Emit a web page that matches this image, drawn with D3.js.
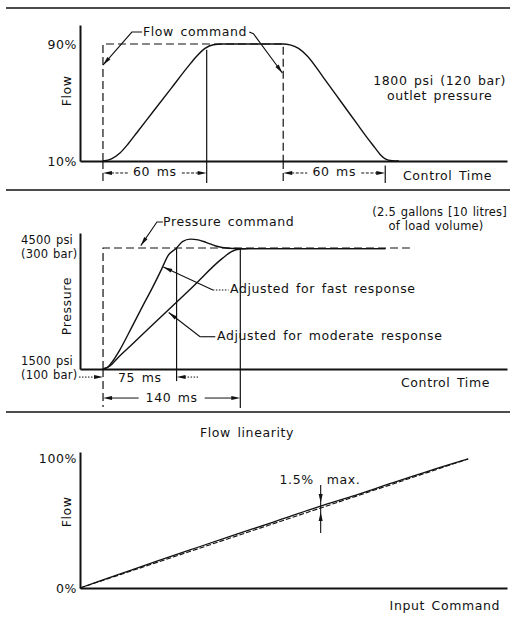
<!DOCTYPE html>
<html>
<head>
<meta charset="utf-8">
<script src="https://cdn.jsdelivr.net/npm/d3@7"></script>
<style>
  body { margin: 0; background: #fff; }
  svg text {
    font-family: "DejaVu Sans", "Liberation Sans", sans-serif;
    font-size: 12.5px;
    fill: #111;
    letter-spacing: 0.6px;
    word-spacing: 2px;
  }
  svg text.tight { font-size: 11.5px; letter-spacing: 0.2px; word-spacing: 1px; }
</style>
</head>
<body>
<svg id="chart" width="510" height="620"></svg>
<script>
// ---------- Panel 1: flow step response (time in ms, flow in %) ----------
const flowTime = [0, 5, 10, 15, 20, 30, 40, 50, 55, 60, 65, 70, 106, 110, 115, 120, 130, 140, 150, 155, 160, 163, 166, 170, 174];
const flowPct  = [10, 11.5, 15.5, 22, 29.5, 44.5, 59.5, 74.5, 81.5, 87, 89.5, 90, 90, 89.4, 87, 82, 66.5, 50.5, 34.5, 26.5, 19, 14.5, 11.5, 10.2, 10];
const flowCmdTime = [0, 0, 106, 106];
const flowCmdPct  = [10, 90, 90, 10];
const flowTicks = [10, 90];
const flowTickLabels = ["10%", "90%"];

// ---------- Panel 2: pressure step response (time in ms, pressure in psi) ----------
const fastTime = [0, 5, 10, 17, 30, 40, 50, 60, 66, 75, 81, 89, 97, 105, 115, 128, 140, 288];
const fastPsi  = [1500, 1550, 1700, 1970, 2570, 3040, 3500, 3990, 4300, 4500, 4660, 4720, 4700, 4640, 4550, 4495, 4485, 4485];
const modTime = [0, 7, 15, 30, 60, 90, 122, 131, 140, 150, 288];
const modPsi  = [1500, 1575, 1775, 2120, 2815, 3505, 4250, 4410, 4475, 4485, 4485];
const pressCmdTime = [0, 0, 313];
const pressCmdPsi  = [1500, 4500, 4500];
const pressTicks = [4500, 1500];
const pressTickPsi = ["4500 psi", "1500 psi"];
const pressTickBar = ["(300 bar)", "(100 bar)"];

// ---------- Panel 3: flow linearity (input command % vs flow %) ----------
const linInput  = [0, 10, 20, 30, 40, 50, 62, 70, 80, 90, 100];
const linOutput = [0, 10.5, 21, 31.2, 41.3, 51.3, 63.5, 71, 81, 90.8, 100];
const idealInput  = [0, 100];
const idealOutput = [0, 100];
const linTicks = [0, 100];
const linTickLabels = ["0%", "100%"];

const ink = "#111";
const svg = d3.select("#chart");

// helpers
function label(g, x, y, txt, anchor = "start") {
  return g.append("text").attr("x", x).attr("y", y)
    .attr("text-anchor", anchor).attr("dominant-baseline", "middle").text(txt);
}
function seg(g, pts, opts = {}) {
  return g.append("path")
    .attr("d", d3.line()(pts))
    .attr("fill", "none").attr("stroke", ink)
    .attr("stroke-width", opts.w || 1.2)
    .attr("stroke-dasharray", opts.dash || null);
}
// narrow filled arrowhead with its tip at (x,y), pointing along angle a
function arrowHead(g, x, y, a, len = 9, half = 2) {
  const c = Math.cos(a), s = Math.sin(a);
  const bx = x - len * c, by = y - len * s;
  g.append("path")
    .attr("d", `M${x},${y}L${bx - half * s},${by + half * c}L${bx + half * s},${by - half * c}Z`)
    .attr("fill", ink);
}
function leader(g, pts, dash) {
  seg(g, pts, { w: 1.1, dash });
  const p = pts[pts.length - 1], q = pts[pts.length - 2];
  arrowHead(g, p[0], p[1], Math.atan2(p[1] - q[1], p[0] - q[0]));
}
function styleAxis(sel) {
  sel.select(".domain").attr("stroke", ink).attr("stroke-width", 2);
  sel.selectAll("text").attr("font-family", null).attr("font-size", null);
  sel.attr("font-family", null).attr("font-size", null);
}
function separator(y) {
  svg.append("line").attr("x1", 6).attr("x2", 510).attr("y1", y).attr("y2", y)
    .attr("stroke", ink).attr("stroke-width", 1.5);
}
const dotDash = "3,1.6";

separator(8);
separator(190);
separator(412);

// ======================= Panel 1 =======================
{
  const g = svg.append("g");
  const x = d3.scaleLinear().domain([-13.5, 237.6]).range([80, 507]);
  const y = d3.scaleLinear().domain([10, 103]).range([161, 25]);

  g.append("g").attr("transform", `translate(${x(-13.5)},0)`)
    .call(d3.axisLeft(y).tickValues(flowTicks).tickSize(0).tickPadding(3)
      .tickFormat((d, i) => flowTickLabels[i]))
    .call(styleAxis);
  g.append("g").attr("transform", `translate(0,${y(10)})`)
    .call(d3.axisBottom(x).tickValues([]).tickSizeOuter(0))
    .call(styleAxis);

  // command (dashed)
  const cmd = flowCmdTime.map((t, i) => [x(t), y(flowCmdPct[i])]);
  seg(g, cmd, { w: 1.2, dash: "8,4" });
  // dashed extension lines below the axis
  seg(g, [[x(0), y(10)], [x(0), y(-5)]], { w: 1.2, dash: "8,4" });
  seg(g, [[x(106), y(10)], [x(106), y(-5)]], { w: 1.2, dash: "8,4" });

  // flow response
  g.append("path")
    .attr("d", d3.line().x((d, i) => x(flowTime[i])).y(d => y(d)).curve(d3.curveMonotoneX)(flowPct))
    .attr("fill", "none").attr("stroke", ink).attr("stroke-width", 1.4);

  // 60 ms markers
  seg(g, [[x(61), y(86)], [x(61), y(-5)]], { w: 1.2 });
  seg(g, [[x(166), y(7)], [x(166), y(-5)]], { w: 1.2 });

  // dimension lines
  const dy = y(1.8);
  [[0, 61], [106, 166]].forEach(([a, b]) => {
    const mid = (x(a) + x(b)) / 2;
    seg(g, [[x(a) + 8, dy], [mid - 27, dy]], { w: 1, dash: dotDash });
    seg(g, [[mid + 27, dy], [x(b) - 8, dy]], { w: 1, dash: dotDash });
    arrowHead(g, x(a), dy, Math.PI);
    arrowHead(g, x(b), dy, 0);
    label(g, mid, dy, "60 ms", "middle");
  });

  label(g, 492, 176, "Control Time", "end");

  // command callout
  const ty = 98.2;
  label(g, x(23.5), y(ty), "Flow command");
  leader(g, [[x(23), y(ty)], [x(17), y(ty)], [x(0), y(75.6)]]);
  leader(g, [[x(86), y(ty)], [x(88.5), y(97)], [x(105.5), y(70.2)]]);

  label(g, x(198), y(64.3), "1800 psi (120 bar)", "middle");
  label(g, x(198), y(53.9), "outlet pressure", "middle");

  g.append("text").attr("transform", `translate(67,${y(58)}) rotate(-90)`)
    .attr("text-anchor", "middle").attr("dominant-baseline", "middle").text("Flow");
}

// ======================= Panel 2 =======================
{
  const g = svg.append("g");
  const x = d3.scaleLinear().domain([-23.5, 412]).range([80, 507]);
  const y = d3.scaleLinear().domain([1500, 4872]).range([369, 233]);

  g.append("g").attr("transform", `translate(${x(-23.5)},0)`)
    .call(d3.axisLeft(y).tickValues([]).tickSizeOuter(0))
    .call(styleAxis);
  g.append("g").attr("transform", `translate(0,${y(1500)})`)
    .call(d3.axisBottom(x).tickValues([]).tickSizeOuter(0))
    .call(styleAxis);

  // two-line pressure tick labels
  pressTicks.forEach((v, i) => {
    const ty = y(v);
    label(g, 21, ty - 8, pressTickPsi[i]).attr("class", "tight");
    label(g, 21, ty + 6, pressTickBar[i]).attr("class", "tight");
  });

  // command (dashed)
  seg(g, pressCmdTime.map((t, i) => [x(t), y(pressCmdPsi[i])]), { w: 1.2, dash: "8,4" });
  seg(g, [[x(0), y(1500)], [x(0), y(560)]], { w: 1.2, dash: "8,4" });

  const line = (ts) => d3.line().x((d, i) => x(ts[i])).y(d => y(d)).curve(d3.curveMonotoneX);
  g.append("path").attr("d", line(fastTime)(fastPsi))
    .attr("fill", "none").attr("stroke", ink).attr("stroke-width", 1.4);
  g.append("path").attr("d", line(modTime)(modPsi))
    .attr("fill", "none").attr("stroke", ink).attr("stroke-width", 1.4);

  // 75 ms and 140 ms markers
  seg(g, [[x(75), y(4500)], [x(75), y(1200)]], { w: 1.2 });
  seg(g, [[x(140), y(4480)], [x(140), y(530)]], { w: 1.2 });

  // 75 ms: arrows outside pointing in
  const d1 = y(1300);
  seg(g, [[79, d1], [x(0) - 8, d1]], { w: 1, dash: "1.5,1.5" });
  arrowHead(g, x(0), d1, 0);
  seg(g, [[x(75) + 8, d1], [x(98), d1]], { w: 1, dash: "1.5,1.5" });
  arrowHead(g, x(75), d1, Math.PI);
  label(g, (x(0) + x(75)) / 2, d1 + 1, "75 ms", "middle");

  // 140 ms: arrows inside pointing out
  const d2 = y(780);
  const mid2 = (x(0) + x(140)) / 2;
  seg(g, [[x(0) + 8, d2], [mid2 - 33, d2]], { w: 1 });
  seg(g, [[mid2 + 33, d2], [x(140) - 8, d2]], { w: 1 });
  arrowHead(g, x(0), d2, Math.PI);
  arrowHead(g, x(140), d2, 0);
  label(g, mid2, d2, "140 ms", "middle");

  label(g, 490, 383, "Control Time", "end");

  // callouts
  label(g, x(61.2), y(5120), "Pressure command");
  leader(g, [[x(61), y(5145)], [x(55), y(5145)], [x(38.5), y(4560)]]);

  label(g, x(129.5), y(3459), "Adjusted for fast response");
  seg(g, [[x(112), y(3459)], [x(128), y(3459)]], { w: 1, dash: "1.5,1.5" });
  leader(g, [[x(112), y(3459)], [x(61.5), y(4030)]]);

  label(g, x(116.3), y(2300), "Adjusted for moderate response");
  seg(g, [[x(99), y(2300)], [x(114.5), y(2300)]], { w: 1.1 });
  leader(g, [[x(99), y(2300)], [x(67), y(2900)]]);

  label(g, 507, 212, "(2.5 gallons [10 litres]", "end").attr("class", "tight");
  label(g, 436, 226, "of load volume)", "middle").attr("class", "tight");

  g.append("text").attr("transform", `translate(67,${y(3060)}) rotate(-90)`)
    .attr("text-anchor", "middle").attr("dominant-baseline", "middle").text("Pressure");
}

// ======================= Panel 3 =======================
{
  const g = svg.append("g");
  const x = d3.scaleLinear().domain([0, 110]).range([80, 507]);
  const y = d3.scaleLinear().domain([0, 105.4]).range([588, 452]);

  g.append("g").attr("transform", `translate(${x(0)},0)`)
    .call(d3.axisLeft(y).tickValues(linTicks).tickSize(0).tickPadding(3)
      .tickFormat((d, i) => linTickLabels[i]))
    .call(styleAxis);
  g.append("g").attr("transform", `translate(0,${y(0)})`)
    .call(d3.axisBottom(x).tickValues([]).tickSizeOuter(0))
    .call(styleAxis);

  // ideal (dashed) and actual (solid) flow
  g.append("path")
    .attr("d", d3.line().x((d, i) => x(idealInput[i])).y(d => y(d))(idealOutput))
    .attr("fill", "none").attr("stroke", ink).attr("stroke-width", 1.1).attr("stroke-dasharray", "5,2");
  g.append("path")
    .attr("d", d3.line().x((d, i) => x(linInput[i])).y(d => y(d)).curve(d3.curveMonotoneX)(linOutput))
    .attr("fill", "none").attr("stroke", ink).attr("stroke-width", 1.3);

  // 1.5 % deviation marker
  const mx = x(62);
  seg(g, [[mx, y(79.8)], [mx, y(42.6)]], { w: 1.1 });
  arrowHead(g, mx, y(65.9), Math.PI / 2);
  arrowHead(g, mx, y(58.9), -Math.PI / 2);
  label(g, mx - 7, y(83.7), "1.5%", "end");
  label(g, mx + 6, y(83.7), "max.");

  label(g, 247, 433, "Flow linearity", "middle");
  label(g, 500, 606, "Input Command", "end");

  g.append("text").attr("transform", `translate(67,${y(59)}) rotate(-90)`)
    .attr("text-anchor", "middle").attr("dominant-baseline", "middle").text("Flow");
}
</script>
</body>
</html>
